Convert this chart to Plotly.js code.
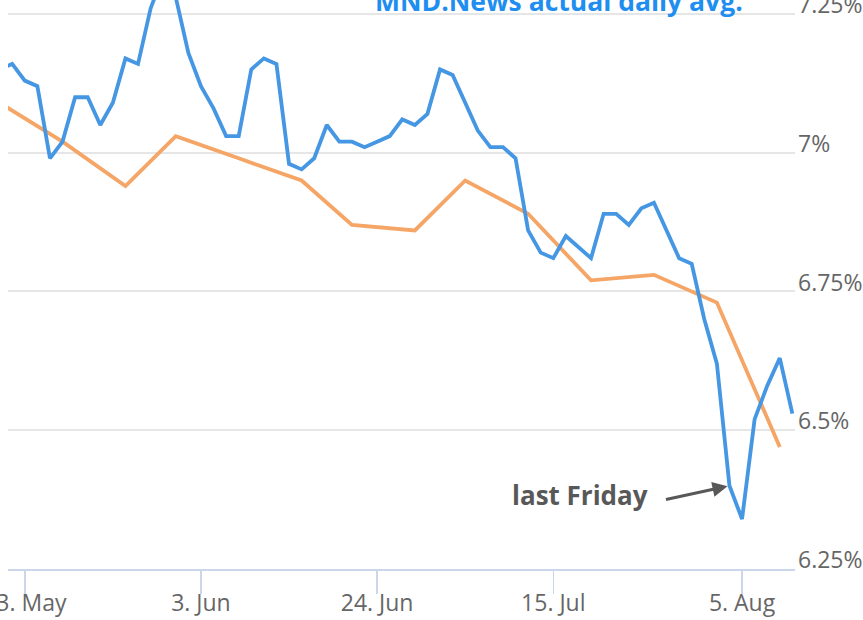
<!DOCTYPE html>
<html>
<head>
<meta charset="utf-8">
<script src="https://cdn.plot.ly/plotly-3.0.1.min.js"></script>
<style>
  html, body { margin: 0; padding: 0; background: #fff; overflow: hidden; }
  #chart { width: 863px; height: 620px; }
</style>
</head>
<body>
<div id="chart"></div>
<script>
// MND daily 30yr fixed (business days)
const mndDates = [
  '2024-05-09','2024-05-10','2024-05-13','2024-05-14','2024-05-15','2024-05-16','2024-05-17',
  '2024-05-20','2024-05-21','2024-05-22','2024-05-23','2024-05-24','2024-05-28','2024-05-29',
  '2024-05-30','2024-05-31','2024-06-03','2024-06-04','2024-06-05','2024-06-06','2024-06-07',
  '2024-06-10','2024-06-11','2024-06-12','2024-06-13','2024-06-14','2024-06-17','2024-06-18',
  '2024-06-20','2024-06-21','2024-06-24','2024-06-25','2024-06-26','2024-06-27','2024-06-28',
  '2024-07-01','2024-07-02','2024-07-03','2024-07-05','2024-07-08','2024-07-09','2024-07-10',
  '2024-07-11','2024-07-12','2024-07-15','2024-07-16','2024-07-17','2024-07-18','2024-07-19',
  '2024-07-22','2024-07-23','2024-07-24','2024-07-25','2024-07-26','2024-07-29','2024-07-30',
  '2024-07-31','2024-08-01','2024-08-02','2024-08-05','2024-08-06','2024-08-07','2024-08-08',
  '2024-08-09'
];
const mndRates = [
  7.15, 7.16, 7.13, 7.12, 6.99, 7.02, 7.10,
  7.10, 7.05, 7.09, 7.17, 7.16, 7.26, 7.32,
  7.28, 7.18, 7.12, 7.08, 7.03, 7.03, 7.15,
  7.17, 7.16, 6.98, 6.97, 6.99, 7.05, 7.02,
  7.02, 7.01, 7.02, 7.03, 7.06, 7.05, 7.07,
  7.15, 7.14, 7.09, 7.04, 7.01, 7.01, 6.99,
  6.86, 6.82, 6.81, 6.85, 6.83, 6.81, 6.89,
  6.89, 6.87, 6.90, 6.91, 6.86, 6.81, 6.80,
  6.70, 6.62, 6.40, 6.34, 6.52, 6.58, 6.63,
  6.53
];

// Freddie Mac weekly survey
const weeklyDates = [
  '2024-05-09','2024-05-16','2024-05-23','2024-05-30','2024-06-06','2024-06-13','2024-06-20',
  '2024-06-27','2024-07-03','2024-07-11','2024-07-18','2024-07-25','2024-08-01','2024-08-08'
];
const weeklyRates = [7.09, 7.02, 6.94, 7.03, 6.99, 6.95, 6.87, 6.86, 6.95, 6.89, 6.77, 6.78, 6.73, 6.47];

const holidays = ['2024-05-27', '2024-06-19', '2024-07-04'];
const xTickDates = ['2024-05-13', '2024-06-03', '2024-06-24', '2024-07-15', '2024-08-05'];
const yTickVals = [6.25, 6.5, 6.75, 7, 7.25];
const yTickText = ['6.25%', '6.5%', '6.75%', '7%', '7.25%'];

const blue = '#4596e3';
const orange = '#f5a566';

const traces = [
  {
    x: weeklyDates, y: weeklyRates, type: 'scatter', mode: 'lines',
    line: { color: orange, width: 3.8 }, hoverinfo: 'skip'
  },
  {
    x: mndDates, y: mndRates, type: 'scatter', mode: 'lines',
    line: { color: blue, width: 3.8 }, hoverinfo: 'skip'
  }
];

const layout = {
  width: 863, height: 620,
  margin: { l: 8, r: 68, t: 0, b: 51, pad: 0 },
  paper_bgcolor: '#ffffff', plot_bgcolor: '#ffffff',
  showlegend: false,
  font: { family: '"Open Sans", sans-serif', color: '#666666', size: 23 },
  xaxis: {
    type: 'date',
    range: ['2024-05-09 16:00', '2024-08-09 05:00'],
    rangebreaks: [{ bounds: ['sat', 'mon'] }, { values: holidays }],
    tickvals: xTickDates,
    tickformat: '%-d. %b',
    ticks: 'outside', ticklen: 23, tickwidth: 1.5, tickcolor: '#ccd6eb',
    ticklabelstandoff: -11,
    showline: true, linecolor: '#ccd6eb', linewidth: 2,
    showgrid: false, zeroline: false,
    ticklabeloverflow: 'allow',
    tickfont: { family: '"Open Sans", sans-serif', size: 23, color: '#666666' }
  },
  yaxis: {
    side: 'right',
    range: [6.25, 7.2752],
    tickmode: 'array',
    tickvals: yTickVals,
    ticktext: yTickText,
    showgrid: true, gridcolor: '#e6e6e6', gridwidth: 2,
    zeroline: false, showline: false,
    ticks: '', ticklen: 0,
    ticklabelshift: -9, ticklabelstandoff: 2,
    ticklabeloverflow: 'allow',
    tickfont: { family: '"Open Sans", sans-serif', size: 23, color: '#666666' }
  },
  annotations: [
    {
      text: 'MND.News actual daily avg.', xref: 'paper', yref: 'paper',
      x: 0.4640, y: 0.998, xanchor: 'left', yanchor: 'middle', showarrow: false,
      font: { family: '"Open Sans", sans-serif', size: 26.5, color: '#1f8ef1', weight: 'bold' }
    },
    {
      text: 'last Friday', xref: 'paper', yref: 'paper',
      x: 0.7268, y: 0.130, xanchor: 'center', yanchor: 'middle', showarrow: false,
      font: { family: '"Open Sans", sans-serif', size: 26, color: '#585858', weight: 'bold' }
    },
    {
      xref: 'x', yref: 'y', x: '2024-08-02', y: 6.40,
      showarrow: true, ax: -65, ay: 14, standoff: 2,
      arrowhead: 2, arrowsize: 1, arrowwidth: 3, arrowcolor: '#585858',
      font: { size: 1 }
    }
  ]
};

Plotly.newPlot('chart', traces, layout, { staticPlot: true, displayModeBar: false });
</script>
</body>
</html>
